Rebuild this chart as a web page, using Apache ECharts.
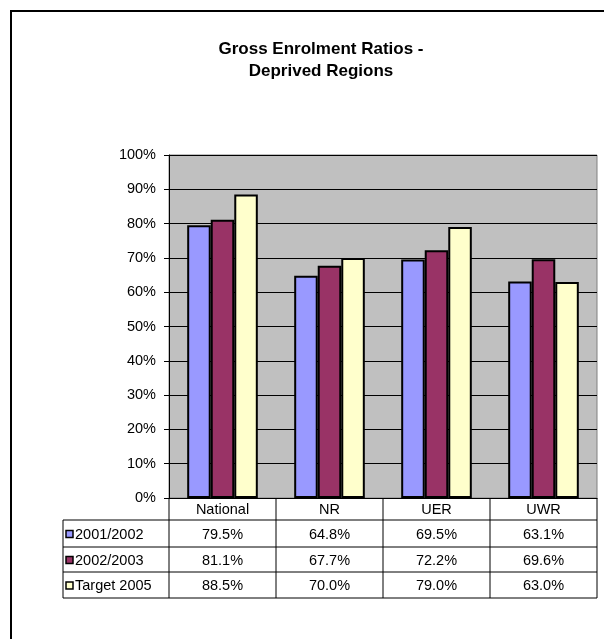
<!DOCTYPE html>
<html>
<head>
<meta charset="utf-8">
<script src="https://cdn.jsdelivr.net/npm/echarts@6/dist/echarts.min.js"></script>
<style>
  html, body { margin: 0; padding: 0; background: #fff; }
  #main { width: 604px; height: 639px; }
</style>
</head>
<body>
<div id="main"></div>
<script>
// data
const regions = ['National', 'NR', 'UER', 'UWR'];
const seriesNames = ['2001/2002', '2002/2003', 'Target 2005'];
const y2001 = [79.5, 64.8, 69.5, 63.1];
const y2002 = [81.1, 67.7, 72.2, 69.6];
const target2005 = [88.5, 70.0, 79.0, 63.0];
const colors = ['#9999FF', '#993366', '#FFFFCC'];

const allValues = [y2001, y2002, target2005];
const font = 'Arial, "Liberation Sans", sans-serif';

const chart = echarts.init(document.getElementById('main'));

const option = {
  animation: false,
  backgroundColor: '#fff',
  textStyle: { fontFamily: font },
  title: {
    text: 'Gross Enrolment Ratios -\nDeprived Regions',
    left: 316,
    top: 33,
    textAlign: 'center',
    textStyle: { fontSize: 17, fontWeight: 'bold', color: '#000', lineHeight: 22, fontFamily: font }
  },
  grid: {
    left: 169, right: 7, top: 155, bottom: 141,
    show: true, backgroundColor: '#C0C0C0', borderColor: '#808080', borderWidth: 1
  },
  xAxis: {
    type: 'category',
    data: regions,
    axisLine: { lineStyle: { color: '#000', width: 1 } },
    axisTick: { show: false },
    axisLabel: { show: false }
  },
  yAxis: {
    type: 'value',
    min: 0, max: 100, interval: 10,
    axisLine: { show: true, lineStyle: { color: '#000', width: 1 } },
    axisTick: { show: true, length: 5, lineStyle: { color: '#000' } },
    splitLine: { lineStyle: { color: '#000', width: 1 } },
    axisLabel: { formatter: '{value}%', color: '#000', fontSize: 14.5, margin: 13, fontFamily: font }
  },
  series: seriesNames.map((name, i) => ({
    name: name,
    type: 'bar',
    data: allValues[i],
    barGap: '0%',
    barCategoryGap: '34%',
    itemStyle: { color: colors[i], borderColor: '#000', borderWidth: 2 }
  }))
};
chart.setOption(option);

// data table under the plot, placed from the category axis
function buildTable() {
  const c0 = chart.convertToPixel({ xAxisIndex: 0 }, 0);
  const c1 = chart.convertToPixel({ xAxisIndex: 0 }, 1);
  const band = c1 - c0;
  const left = c0 - band / 2;
  const right = left + band * regions.length;
  const top = chart.convertToPixel({ yAxisIndex: 0 }, 0);
  const rowH = [22, 27, 25, 26];
  const legendLeft = 63;
  const rowsY = [top];
  rowH.forEach(h => rowsY.push(rowsY[rowsY.length - 1] + h));
  const els = [];
  const line = (x1, y1, x2, y2) => els.push({
    type: 'line', shape: { x1, y1, x2, y2 }, style: { stroke: '#000', lineWidth: 1 }
  });
  const text = (x, y, s, align) => els.push({
    type: 'text', x, y,
    style: { text: s, fill: '#000', font: '14.5px ' + font, align: align || 'center', verticalAlign: 'middle' }
  });
  // horizontals
  for (let r = 1; r < rowsY.length; r++) line(legendLeft, rowsY[r], right, rowsY[r]);
  // verticals
  line(legendLeft, rowsY[1], legendLeft, rowsY[4]);
  for (let k = 0; k <= regions.length; k++) {
    const x = left + band * k;
    line(x, rowsY[0], x, rowsY[4]);
  }
  // header
  regions.forEach((r, k) => text(left + band * (k + 0.5), (rowsY[0] + rowsY[1]) / 2 + 1, r));
  // rows
  seriesNames.forEach((name, i) => {
    const yc = (rowsY[i + 1] + rowsY[i + 2]) / 2 + 1;
    els.push({
      type: 'rect', shape: { x: legendLeft + 3, y: yc - 4, width: 7, height: 7 },
      style: { fill: colors[i], stroke: '#000', lineWidth: 1.5 }
    });
    text(legendLeft + 12, yc, name, 'left');
    allValues[i].forEach((v, k) => text(left + band * (k + 0.5), yc, v.toFixed(1) + '%'));
  });
  // outer frame of the chart area
  els.push({ type: 'polyline', shape: { points: [[11, 639], [11, 11], [604, 11]] }, style: { stroke: '#000', lineWidth: 2, fill: null } });
  chart.setOption({ graphic: { elements: els } });
}
buildTable();
</script>
</body>
</html>
